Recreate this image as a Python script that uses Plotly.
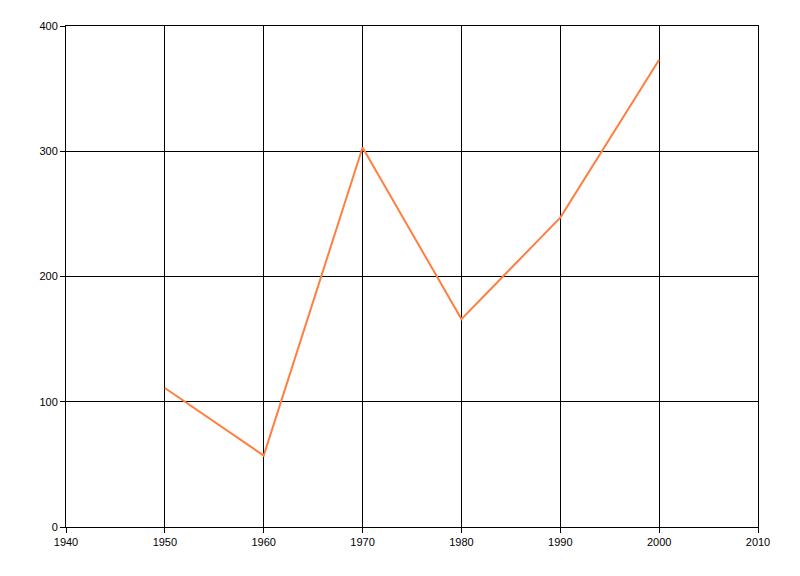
import plotly.graph_objects as go

years = [1950, 1960, 1970, 1980, 1990, 2000]
values = [111, 57, 303, 166, 247, 373]
x_ticks = [1940, 1950, 1960, 1970, 1980, 1990, 2000, 2010]
y_ticks = [0, 100, 200, 300, 400]

fig = go.Figure()
fig.add_trace(go.Scatter(x=years, y=values, mode="lines",
                         line=dict(color="#FF7F40", width=2), showlegend=False))

axis_common = dict(showgrid=True, gridcolor="black", gridwidth=1,
                   showline=True, linecolor="black", linewidth=1, mirror=True,
                   ticks="outside", ticklen=5, tickcolor="black", tickwidth=1,
                   zeroline=False, tickfont=dict(family="Liberation Sans, Arial", size=11, color="black"))

fig.update_layout(
    width=800, height=576,
    margin=dict(l=58, r=50, t=18, b=57),
    plot_bgcolor="white", paper_bgcolor="white",
    xaxis=dict(range=[1940, 2010], tickvals=x_ticks, ticktext=[str(v) for v in x_ticks], **axis_common),
    yaxis=dict(range=[0, 400], tickvals=y_ticks, ticktext=[str(v) for v in y_ticks], **axis_common),
)

fig.write_html("out.html")
